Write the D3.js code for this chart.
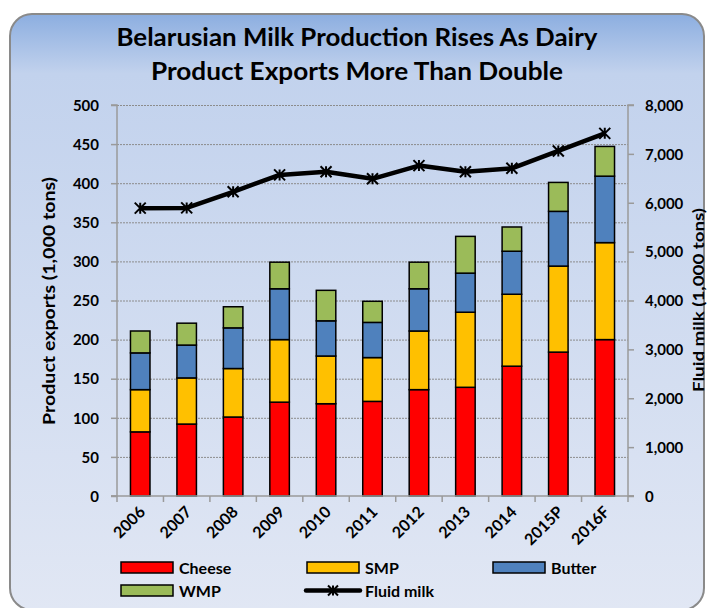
<!DOCTYPE html>
<html>
<head>
<meta charset="utf-8">
<script src="https://cdn.jsdelivr.net/npm/d3@7"></script>
<style>
  body { margin: 0; background: #fff; }
  svg text { font-family: Lato, "Open Sans", sans-serif; font-weight: bold; fill: #000; }
</style>
</head>
<body>
<script>
// chart data
var years = ["2006", "2007", "2008", "2009", "2010", "2011", "2012", "2013", "2014", "2015P", "2016F"];
var cheese = [82, 92, 101, 120, 118, 121, 136, 139, 166, 184, 200];
var smp    = [54, 59, 62, 80, 61, 56, 75, 96, 92, 110, 124];
var butter = [47, 42, 52, 65, 45, 45, 54, 50, 55, 70, 85];
var wmp    = [28, 28, 27, 34, 39, 27, 34, 47, 31, 37, 38];
var fluidMilk = [5890, 5895, 6225, 6570, 6635, 6490, 6760, 6635, 6705, 7060, 7420];

var seriesNames = ["Cheese", "SMP", "Butter", "WMP"];
var seriesColors = ["#ff0000", "#ffc000", "#4f81bd", "#9bbb59"];
var leftTicks = [0, 50, 100, 150, 200, 250, 300, 350, 400, 450, 500];
var rightTicks = [0, 1000, 2000, 3000, 4000, 5000, 6000, 7000, 8000];

var width = 709, height = 608;
var plot = {left: 117, right: 628, top: 105, bottom: 496};

var svg = d3.select("body").append("svg")
    .attr("width", width)
    .attr("height", height);

// background gradient
var defs = svg.append("defs");
var grad = defs.append("linearGradient")
    .attr("id", "bg")
    .attr("x1", 0).attr("y1", 0).attr("x2", 0).attr("y2", 1);
grad.append("stop").attr("offset", "0%").attr("stop-color", "#8caee0");
grad.append("stop").attr("offset", "10%").attr("stop-color", "#c2d2ed");
grad.append("stop").attr("offset", "100%").attr("stop-color", "#e1e7f4");

svg.append("rect")
    .attr("x", 10).attr("y", 14)
    .attr("width", 694).attr("height", 596)
    .attr("rx", 22).attr("ry", 22)
    .attr("fill", "url(#bg)")
    .attr("stroke", "#8a8a8a")
    .attr("stroke-width", 2);

// title
svg.append("text")
    .attr("x", 357).attr("y", 46)
    .attr("text-anchor", "middle")
    .attr("font-size", 25)
    .attr("textLength", 481).attr("lengthAdjust", "spacingAndGlyphs")
    .text("Belarusian Milk Production Rises As Dairy");
svg.append("text")
    .attr("x", 357).attr("y", 80)
    .attr("text-anchor", "middle")
    .attr("font-size", 25)
    .attr("textLength", 412).attr("lengthAdjust", "spacingAndGlyphs")
    .text("Product Exports More Than Double");

// scales
var x = d3.scaleBand()
    .domain(years)
    .range([plot.left, plot.right])
    .paddingInner(0.58)
    .paddingOuter(0.29);

var y = d3.scaleLinear().domain([0, 500]).range([plot.bottom, plot.top]);
var y2 = d3.scaleLinear().domain([0, 8000]).range([plot.bottom, plot.top]);

// gridlines
svg.append("g").selectAll("line")
    .data(leftTicks.slice(1))
    .enter().append("line")
    .attr("x1", plot.left).attr("x2", plot.right)
    .attr("y1", function(d){ return y(d) + 0.5; })
    .attr("y2", function(d){ return y(d) + 0.5; })
    .attr("stroke", "#8c8c8c")
    .attr("stroke-width", 1)
    .attr("stroke-dasharray", "2,1");

// stacked bars
var table = years.map(function(yr, i){
    return {year: yr, Cheese: cheese[i], SMP: smp[i], Butter: butter[i], WMP: wmp[i]};
});
var stacked = d3.stack().keys(seriesNames)(table);

svg.append("g").selectAll("g")
    .data(stacked)
    .enter().append("g")
    .attr("fill", function(d, i){ return seriesColors[i]; })
    .selectAll("rect")
    .data(function(d){ return d; })
    .enter().append("rect")
    .attr("x", function(d){ return x(d.data.year); })
    .attr("width", x.bandwidth())
    .attr("y", function(d){ return y(d[1]); })
    .attr("height", function(d){ return y(d[0]) - y(d[1]); })
    .attr("stroke", "#000")
    .attr("stroke-width", 1.5);

// axes
var axisColor = "#9a9a9a";

var leftAxis = svg.append("g")
    .attr("transform", "translate(" + plot.left + ",0)")
    .call(d3.axisLeft(y).tickValues(leftTicks).tickSize(6).tickPadding(12));

var rightAxis = svg.append("g")
    .attr("transform", "translate(" + plot.right + ",0)")
    .call(d3.axisRight(y2).tickValues(rightTicks).tickSize(6).tickPadding(11)
        .tickFormat(d3.format(",")));

var bottomAxis = svg.append("g")
    .attr("transform", "translate(0," + plot.bottom + ")");
bottomAxis.append("line")
    .attr("x1", plot.left - 6).attr("x2", plot.right + 6)
    .attr("stroke", axisColor).attr("stroke-width", 1.5);
bottomAxis.selectAll(".tk")
    .data(d3.range(years.length + 1))
    .enter().append("line")
    .attr("class", "tk")
    .attr("x1", function(d){ return plot.left + d * x.step(); })
    .attr("x2", function(d){ return plot.left + d * x.step(); })
    .attr("y1", 0).attr("y2", 6)
    .attr("stroke", axisColor).attr("stroke-width", 1.5);
bottomAxis.selectAll(".lbl")
    .data(years)
    .enter().append("text")
    .attr("class", "lbl")
    .attr("font-size", 16)
    .attr("text-anchor", "end")
    .attr("transform", function(d){
        return "translate(" + (x(d) + x.bandwidth() / 2 + 6) + ",17) rotate(-45)";
    })
    .text(function(d){ return d; });

[leftAxis, rightAxis].forEach(function(g){
    g.select(".domain").attr("stroke", axisColor).attr("stroke-width", 1.5);
    g.selectAll(".tick line").attr("stroke", axisColor).attr("stroke-width", 1.5);
    g.selectAll(".tick text").attr("font-size", 15).attr("dy", "0.35em")
        .style("font-family", "Lato, sans-serif").style("font-weight", "bold");
});
leftAxis.select(".domain").attr("d", "M-6," + plot.bottom + "H0V" + plot.top + "H-6");
rightAxis.select(".domain").attr("d", "M6," + plot.bottom + "H0V" + plot.top + "H6");

// axis titles
svg.append("text")
    .attr("transform", "translate(55,301) rotate(-90)")
    .attr("text-anchor", "middle")
    .attr("font-size", 17)
    .attr("textLength", 248).attr("lengthAdjust", "spacingAndGlyphs")
    .text("Product exports (1,000 tons)");
svg.append("text")
    .attr("transform", "translate(704,300) rotate(-90)")
    .attr("text-anchor", "middle")
    .attr("font-size", 14.5)
    .attr("textLength", 184).attr("lengthAdjust", "spacingAndGlyphs")
    .text("Fluid milk (1,000 tons)");

// fluid milk line
var line = d3.line()
    .x(function(d, i){ return x(years[i]) + x.bandwidth() / 2; })
    .y(function(d){ return y2(d); });

svg.append("path")
    .datum(fluidMilk)
    .attr("d", line)
    .attr("fill", "none")
    .attr("stroke", "#000")
    .attr("stroke-width", 4.5)
    .attr("stroke-linejoin", "round");

function starMarker(g, cx, cy, r){
    g.append("path")
        .attr("d", "M" + (cx - r) + "," + (cy - r) + "L" + (cx + r) + "," + (cy + r) +
                   "M" + (cx - r) + "," + (cy + r) + "L" + (cx + r) + "," + (cy - r) +
                   "M" + cx + "," + (cy - r) + "L" + cx + "," + (cy + r))
        .attr("stroke", "#000")
        .attr("stroke-width", 2);
}
var markers = svg.append("g");
fluidMilk.forEach(function(v, i){
    starMarker(markers, x(years[i]) + x.bandwidth() / 2, y2(v), 5.5);
});

// legend
var legendItems = [
    {name: "Cheese", color: seriesColors[0], x: 121, y: 562},
    {name: "SMP", color: seriesColors[1], x: 307, y: 562},
    {name: "Butter", color: seriesColors[2], x: 493, y: 562},
    {name: "WMP", color: seriesColors[3], x: 121, y: 585}
];
var legend = svg.append("g");
legendItems.forEach(function(it){
    legend.append("rect")
        .attr("x", it.x).attr("y", it.y)
        .attr("width", 52).attr("height", 11)
        .attr("fill", it.color)
        .attr("stroke", "#000").attr("stroke-width", 1.5);
    legend.append("text")
        .attr("x", it.x + 58).attr("y", it.y + 12)
        .attr("font-size", 16)
        .text(it.name);
});
legend.append("line")
    .attr("x1", 306).attr("x2", 360)
    .attr("y1", 590.5).attr("y2", 590.5)
    .attr("stroke", "#000").attr("stroke-width", 4.5)
    .attr("stroke-linecap", "round");
starMarker(legend, 333, 590.5, 5);
legend.append("text")
    .attr("x", 365).attr("y", 597)
    .attr("font-size", 16)
    .text("Fluid milk");
</script>
</body>
</html>
